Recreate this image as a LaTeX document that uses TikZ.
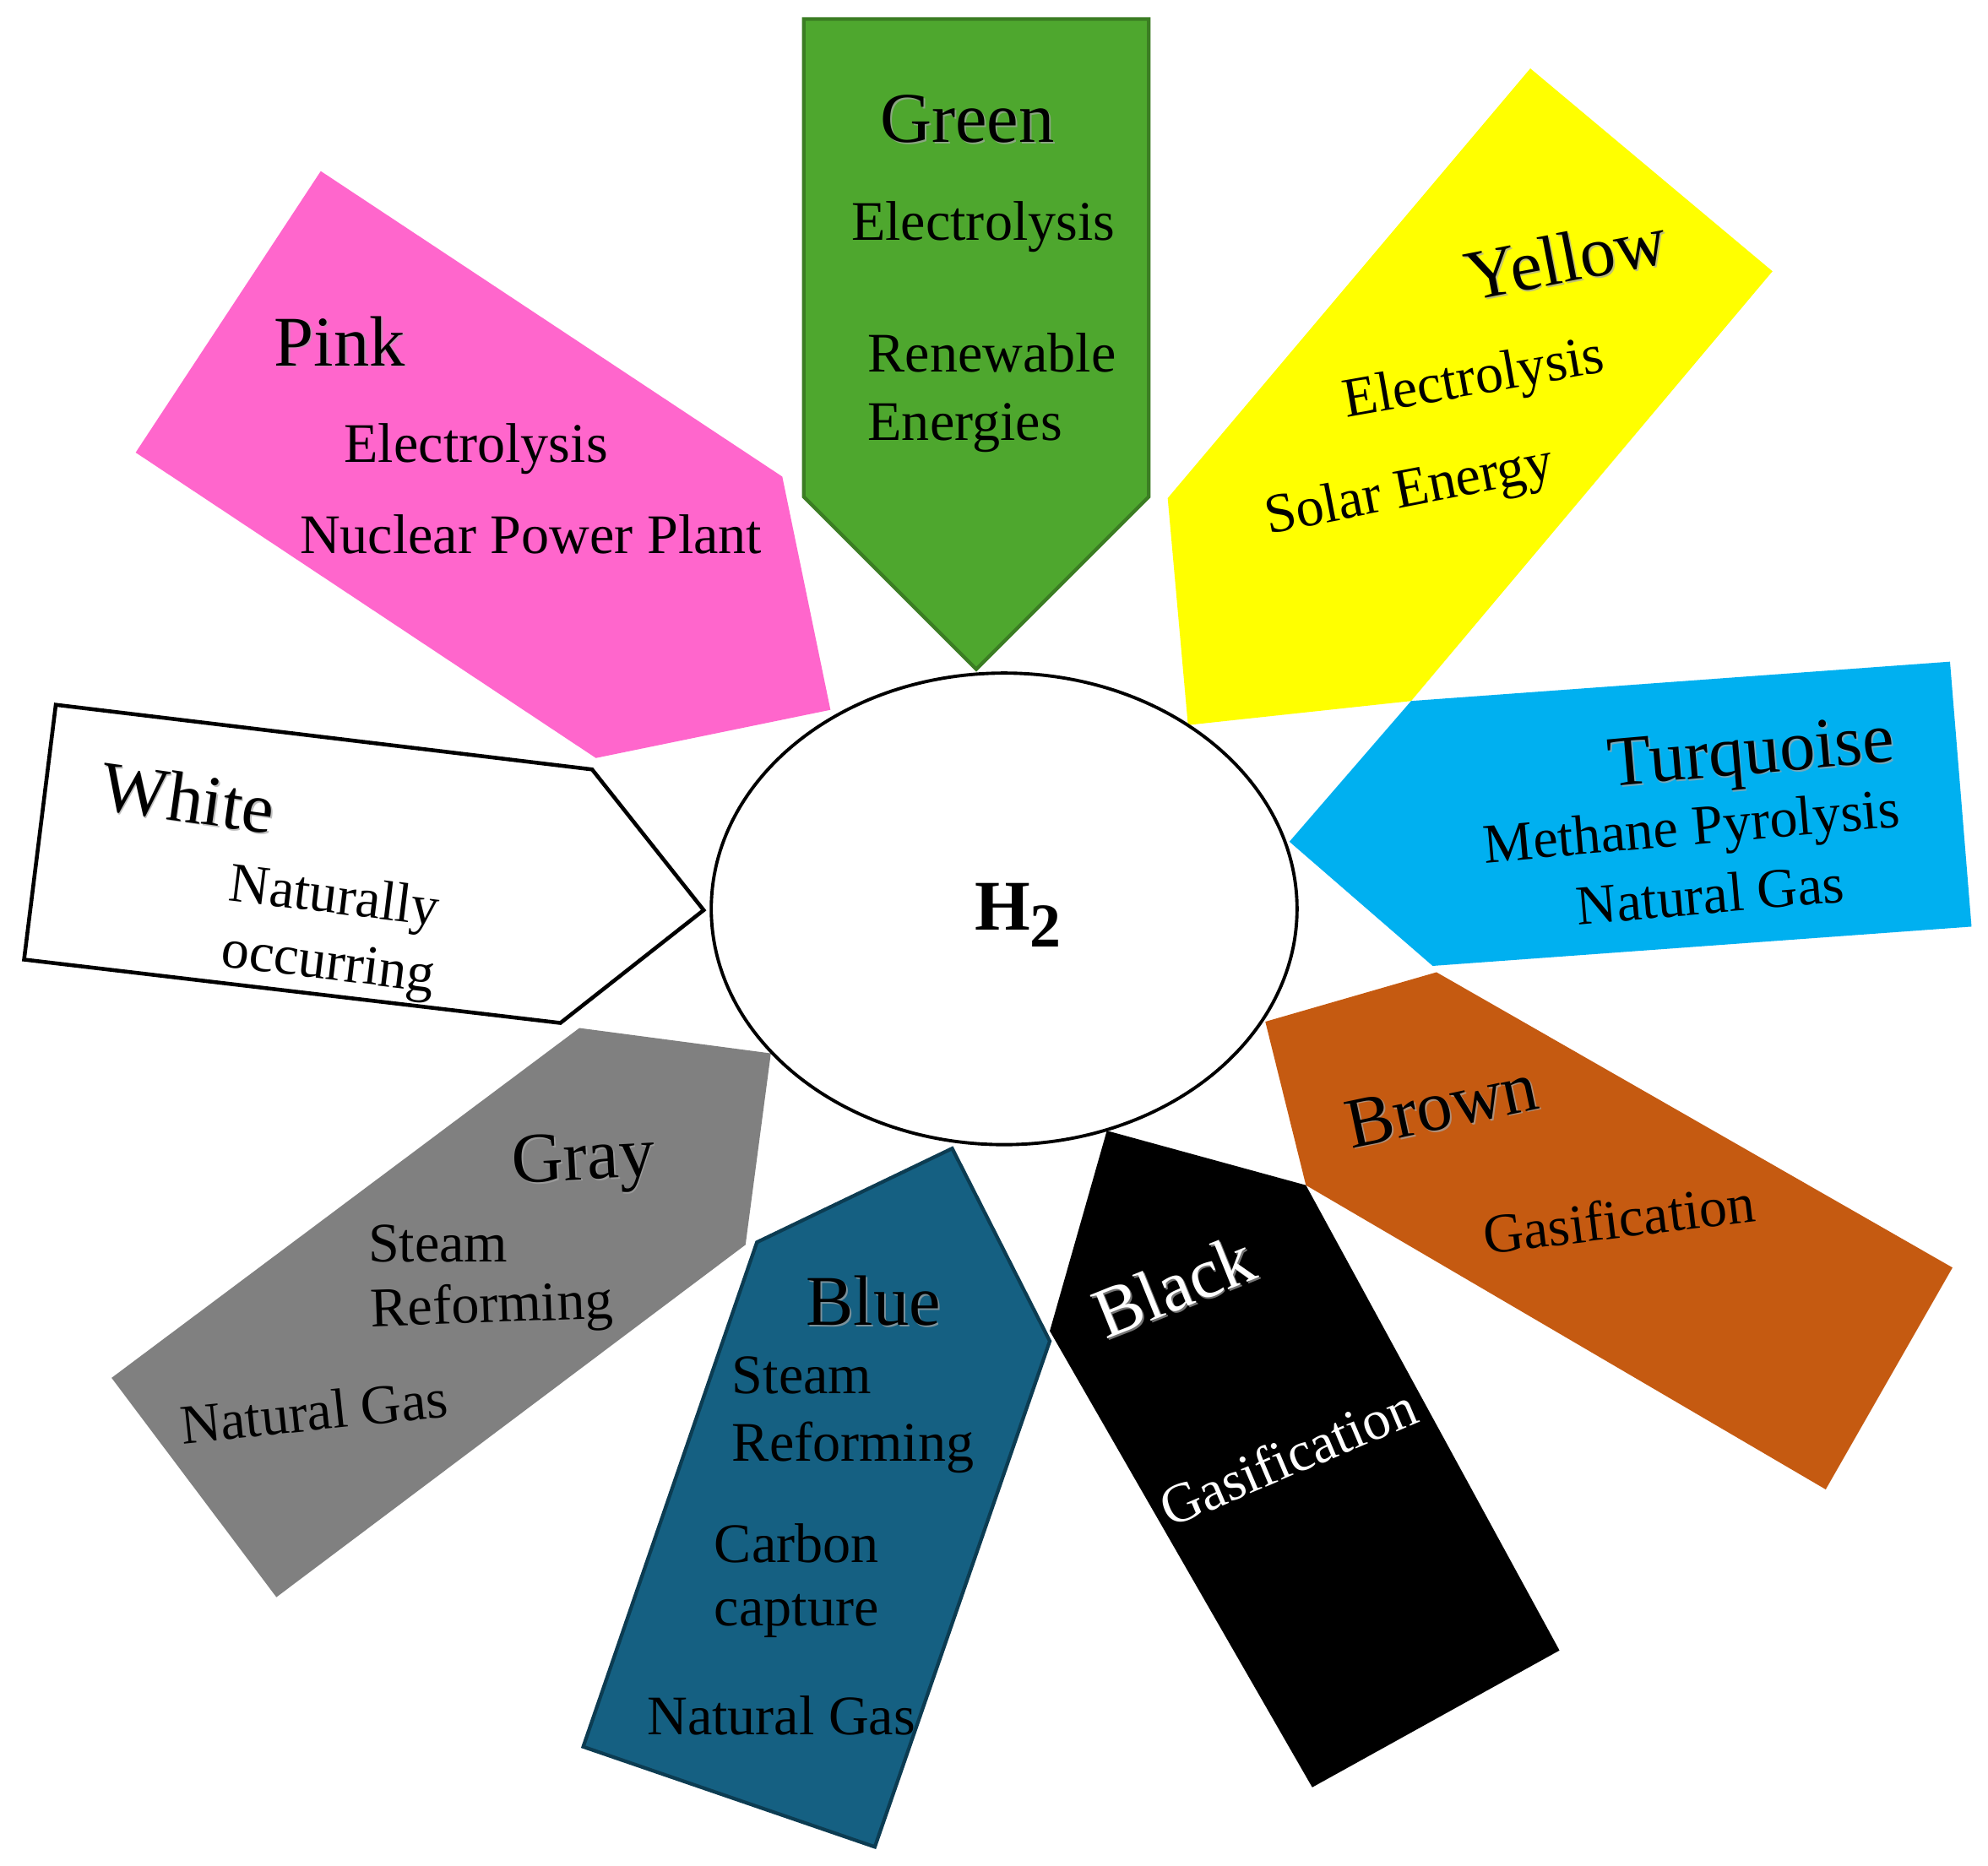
\documentclass[tikz,border=0pt]{standalone}
\usepackage{fontspec}
\setmainfont{Liberation Serif}
\usetikzlibrary{shapes.geometric}

\definecolor{greenfill}{HTML}{4EA72E}
\definecolor{greenline}{HTML}{3B7D23}
\definecolor{pinkfill}{HTML}{FF66CC}
\definecolor{yellowfill}{HTML}{FFFF00}
\definecolor{turqfill}{HTML}{00B0F0}
\definecolor{brownfill}{HTML}{C55A11}
\definecolor{bluefill}{HTML}{156082}
\definecolor{blueline}{HTML}{0C3C52}
\definecolor{grayfill}{HTML}{808080}

\begin{document}
\begin{tikzpicture}[x=0.015cm,y=-0.015cm]
  \tikzstyle{tag}=[font=\fontsize{24}{28}\selectfont, text height=15.8pt, text depth=0pt, inner sep=0pt]
  \tikzstyle{entry}=[font=\fontsize{18.8}{22}\selectfont, text height=12.4pt, text depth=0pt, inner sep=0pt]
  \tikzstyle{hub}=[ellipse, draw, line width=1.1pt, fill=white, minimum width=6.93cm, minimum height=5.58cm, inner sep=0pt]

  \useasboundingbox (0,0) rectangle (1568,1472);

  % the nine arrows
  \filldraw[fill=greenfill, draw=greenline, line width=1.2pt] (634,15) -- (906,15) -- (906,392) -- (770,528) -- (634,392) -- cycle;
  \fill[pinkfill] (253,135) -- (617,376) -- (655,560) -- (470,598) -- (107,357) -- cycle;
  \fill[yellowfill] (1207,54) -- (1398,214) -- (1113,553) -- (937,572) -- (921,393) -- cycle;
  \fill[turqfill] (1538,522) -- (1555,731) -- (1130,762) -- (1017,664) -- (1113,553) -- cycle;
  \fill[brownfill] (1540,1000) -- (1440,1175) -- (1030,935) -- (998,806) -- (1133,767) -- cycle;
  \fill[black] (1230,1302) -- (1035,1410) -- (828,1050) -- (873,892) -- (1030,935) -- cycle;
  \filldraw[fill=bluefill, draw=blueline, line width=1.2pt] (690,1457) -- (460,1378) -- (597,980) -- (751,906) -- (828,1058) -- cycle;
  \fill[grayfill] (88,1087) -- (218,1260) -- (588,982) -- (608,831) -- (457,811) -- cycle;
  \filldraw[fill=white, draw=black, line width=1.3pt] (44,556) -- (467,607) -- (555,718) -- (442,807) -- (19,757) -- cycle;

  % centre
  \node[hub] (h2) at (792,717) {};
  \node[font=\fontsize{24}{28}\selectfont\bfseries, inner sep=0pt] (h2text) at ([shift={(11,5)}]h2.center) {H\raisebox{-.24em}{\fontsize{21}{24}\selectfont 2}};

  % titles, with a soft shadow
  \foreach \nm/\x/\y/\ang/\col in {Green/763/94/0/black, Pink/268/270/0/black, Yellow/1235/204/11/black,
      Turquoise/1381/592/5/black, Brown/1137/872/12/black, Black/926/1015/22/white,
      Blue/689/1027/0/black, Gray/460/912/3/black, White/148/630/-8/black}
  {
    \node[tag, text=black!35, text opacity=.7, rotate=\ang] at (\x+1.2,\y+1.2) {\nm};
    \node[tag, text=\col, rotate=\ang] (\nm) at (\x,\y) {\nm};
  }

  \node[entry, anchor=west] (green-a) at (671,175) {Electrolysis};
  \node[entry, anchor=west] (green-b) at (684,279) {Renewable};
  \node[entry, anchor=west] (green-c) at (684,333) {Energies};

  \node[entry, anchor=west] (pink-a) at (271,350) {Electrolysis};
  \node[entry, anchor=west] (pink-b) at (236,422) {Nuclear Power Plant};

  \node[entry, rotate=10] (yellow-a) at (1162,297) {Electrolysis};
  \node[entry, rotate=11] (yellow-b) at (1111,385) {Solar Energy};

  \node[entry, rotate=5] (turq-a) at (1334,652) {Methane Pyrolysis};
  \node[entry, rotate=5] (turq-b) at (1349,706) {Natural Gas};

  \node[entry, rotate=7] (brown-a) at (1277,962) {Gasification};

  \node[entry, text=white, rotate=23] (black-a) at (1016,1150) {Gasification};

  \node[entry, anchor=west] (blue-a) at (577,1085) {Steam};
  \node[entry, anchor=west] (blue-b) at (577,1138) {Reforming};
  \node[entry, anchor=west] (blue-c) at (563,1218) {Carbon};
  \node[entry, anchor=west] (blue-d) at (563,1268) {capture};
  \node[entry, anchor=west] (blue-e) at (510,1354) {Natural Gas};

  \node[entry, anchor=west] (gray-a) at (290,981) {Steam};
  \node[entry, anchor=west, rotate=2] (gray-b) at (292,1032) {Reforming};
  \node[entry, anchor=west, rotate=6] (gray-c) at (142,1125) {Natural Gas};

  \node[entry, rotate=-7] (white-a) at (264,706) {Naturally};
  \node[entry, rotate=-7] (white-b) at (259,758) {occurring};
\end{tikzpicture}
\end{document}
